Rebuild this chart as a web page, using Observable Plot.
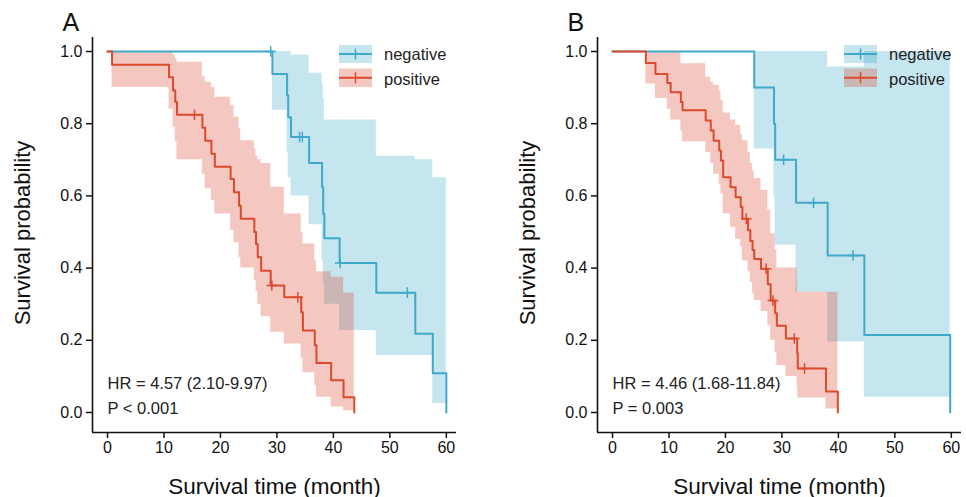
<!DOCTYPE html>
<html><head><meta charset="utf-8">
<script src="https://cdn.jsdelivr.net/npm/d3@7"></script>
<script src="https://cdn.jsdelivr.net/npm/@observablehq/plot@0.6"></script>
<style>
body{margin:0;background:#fff}
#wrap{display:flex;width:966px;height:497px}
#wrap svg .tick line, #wrap svg [aria-label$="tick"] path{stroke-width:1.5}
</style>
</head><body><div id="wrap"></div>
<script>
// ---------- shared ----------
const xTicks = [0, 10, 20, 30, 40, 50, 60];
const yTicks = [0, 0.2, 0.4, 0.6, 0.8, 1.0];
const groups = ["negative", "positive"];
const xLabel = "Survival time (month)";
const yLabel = "Survival probability";

// ---------- Panel A ----------
const aNegTime  = [0, 29.2, 31.8, 32.0, 32.5, 35.7, 38.0, 38.2, 38.4, 41.1, 47.6, 54.5, 57.6, 60];
const aNegSurv  = [1, .938, .878, .818, .763, .691, .624, .55, .483, .414, .332, .218, .109, 0];
const aNegUpper = [1, 1, 1, 1, .99, .94, .91, .87, .81, .81, .71, .70, .65, 0];
const aNegLower = [1, .837, .72, .65, .60, .52, .42, .36, .30, .227, .158, .158, .025, 0];
const aNegCensor = [28.9, 34.0, 34.5, 41.2, 53.1];

const aPosTime  = [0, 0.8, 10.9, 11.6, 12.0, 12.3, 16.8, 17.3, 18.4, 19.0, 21.8, 22.4, 23.3, 23.6, 26.0, 26.3, 26.6, 27.2, 28.9, 31.3, 34.3, 34.6, 36.7, 37.0, 39.6, 41.8, 43.7];
const aPosSurv  = [1, .963, .929, .892, .86, .825, .789, .753, .717, .681, .647, .61, .573, .537, .5, .467, .43, .393, .352, .319, .278, .227, .186, .137, .089, .042, 0];
const aPosUpper = [1, 1, 1, .99, .98, .97, .93, .915, .9, .873, .85, .818, .786, .753, .73, .71, .70, .69, .624, .55, .50, .467, .42, .39, .375, .33, 0];
const aPosLower = [1, .90, .84, .79, .75, .70, .66, .62, .587, .55, .504, .47, .43, .40, .366, .335, .30, .265, .222, .19, .15, .11, .075, .042, .015, .005, 0];
const aPosCensor = [15.4, 29.1, 33.7];
const aStats = ["HR = 4.57 (2.10-9.97)", "P < 0.001"];

// ---------- Panel B ----------
const bNegTime  = [0, 25.1, 28.6, 28.8, 32.5, 38.1, 44.6, 59.8];
const bNegSurv  = [1, .9, .8, .7, .581, .435, .215, 0];
const bNegUpper = [1, 1, 1, 1, 1, .957, 1, 0];
const bNegLower = [1, .73, .60, .463, .333, .195, .042, 0];
const bNegCensor = [30.3, 35.6, 42.6];

const bPosTime  = [0, 5.9, 7.6, 9.7, 10.3, 12.1, 12.4, 16.5, 17.4, 17.9, 18.9, 19.2, 19.6, 20.9, 21.8, 22.7, 23.0, 24.0, 24.4, 24.8, 25.1, 26.3, 27.5, 28.0, 28.8, 29.1, 30.7, 32.7, 32.8, 37.8, 39.9];
const bPosSurv  = [1, .968, .938, .913, .887, .86, .837, .809, .781, .753, .726, .698, .652, .624, .596, .569, .537, .505, .475, .45, .425, .398, .355, .31, .275, .24, .205, .164, .122, .058, 0];
const bPosUpper = [1, 1, 1, 1, 1, .966, .966, .929, .915, .906, .89, .864, .83, .81, .795, .77, .753, .72, .69, .67, .648, .615, .56, .495, .45, .40, .40, .36, .333, .333, 0];
const bPosLower = [1, .91, .87, .84, .81, .78, .75, .72, .69, .66, .63, .606, .55, .513, .48, .458, .42, .39, .36, .33, .31, .28, .24, .20, .165, .13, .10, .07, .04, .01, 0];
const bPosCensor = [23.7, 27.2, 28.4, 32.2, 34.0];
const bStats = ["HR = 4.46 (1.68-11.84)", "P = 0.003"];

// ---------- helpers ----------
const blue = "#3FA9C9", red = "#DC4A2D";
const FONT = "'Liberation Sans', Arial, Helvetica, sans-serif";
const xDomain = [-2.66, 61.8];
const yDomain = [-0.0554, 1.0388];

function rows(time, surv, lower, upper) {
  return time.map((t, i) => ({t, s: surv[i], lo: lower[i], hi: upper[i]}));
}
function survAt(time, surv, t) {
  let s = surv[0];
  for (let i = 0; i < time.length; i++) if (time[i] <= t) s = surv[i];
  return s;
}
function censRows(cens, time, surv) {
  return cens.map(t => ({t, s: survAt(time, surv, t)}));
}

function panel(o) {
  const neg = rows(o.negTime, o.negSurv, o.negLower, o.negUpper);
  const pos = rows(o.posTime, o.posSurv, o.posLower, o.posUpper);
  const negC = censRows(o.negCensor, o.negTime, o.negSurv);
  const posC = censRows(o.posCensor, o.posTime, o.posSurv);
  const W = 483, H = 497, mT = 37, mB = 65;
  const svg = Plot.plot({
    width: W, height: H,
    marginLeft: o.marginLeft, marginRight: o.marginRight, marginTop: mT, marginBottom: mB,
    style: {fontFamily: FONT, fontSize: "16px", color: "#111", background: "white", overflow: "visible"},
    x: {domain: xDomain, ticks: xTicks, tickFormat: d => String(d), tickSize: 6, tickPadding: 3, label: null},
    y: {domain: yDomain, ticks: yTicks, tickFormat: d => d.toFixed(1), tickSize: 6, tickPadding: 4, label: null},
    marks: [
      Plot.areaY(neg, {x: "t", y1: "lo", y2: "hi", curve: "step-after", fill: blue, fillOpacity: 0.3}),
      Plot.areaY(pos, {x: "t", y1: "lo", y2: "hi", curve: "step-after", fill: red, fillOpacity: 0.3}),
      Plot.line(neg, {x: "t", y: "s", curve: "step-after", stroke: blue, strokeWidth: 2}),
      Plot.dot(negC, {x: "t", y: "s", symbol: "plus", r: 3.5, stroke: blue, strokeWidth: 1.5}),
      Plot.line(pos, {x: "t", y: "s", curve: "step-after", stroke: red, strokeWidth: 2}),
      Plot.dot(posC, {x: "t", y: "s", symbol: "plus", r: 3.5, stroke: red, strokeWidth: 1.5}),
      Plot.ruleX([xDomain[0]], {stroke: "#111", strokeWidth: 1.6}),
      Plot.ruleY([yDomain[0]], {stroke: "#111", strokeWidth: 1.6}),
      Plot.text([o.stats[0]], {frameAnchor: "bottom-left", dx: 15, dy: -44, lineAnchor: "bottom", textAnchor: "start", text: d => d, fontSize: 16.5, fill: "#222"}),
      Plot.text([o.stats[1]], {frameAnchor: "bottom-left", dx: 15, dy: -19, lineAnchor: "bottom", textAnchor: "start", text: d => d, fontSize: 16.5, fill: "#222"}),
      Plot.text([xLabel], {frameAnchor: "bottom", dy: 61, lineAnchor: "bottom", textAnchor: "middle", text: d => d, fontSize: 22.5, fill: "#111"}),
      Plot.text([yLabel], {frameAnchor: "left", dx: -70, dy: -2, rotate: -90, lineAnchor: "middle", textAnchor: "middle", text: d => d, fontSize: 22, fill: "#111"}),
      Plot.text([o.letter], {frameAnchor: "top-left", dx: -30, dy: -7, lineAnchor: "bottom", textAnchor: "start", text: d => d, fontSize: 25, fill: "#111"})
    ]
  });
  // legend (keys drawn over the plot, semi-transparent like the bands)
  const right = W - o.marginRight;
  const g = d3.select(svg).append("g").attr("aria-label", "legend");
  const keyRows = [{name: groups[0], color: blue, top: 45, h: 18, base: 60},
                   {name: groups[1], color: red, top: 68.5, h: 18.5, base: 85}];
  keyRows.forEach(k => {
    const x0 = right - 117, w = 33, cy = k.top + k.h / 2;
    g.append("rect").attr("x", x0).attr("y", k.top).attr("width", w).attr("height", k.h)
      .attr("fill", k.color).attr("fill-opacity", 0.3);
    g.append("line").attr("x1", x0).attr("x2", x0 + w).attr("y1", cy).attr("y2", cy)
      .attr("stroke", k.color).attr("stroke-width", 2);
    g.append("line").attr("x1", x0 + w / 2).attr("x2", x0 + w / 2).attr("y1", cy - 5.5).attr("y2", cy + 5.5)
      .attr("stroke", k.color).attr("stroke-width", 1.5);
    g.append("text").attr("x", right - 72).attr("y", k.base).text(k.name)
      .attr("text-anchor", "start")
      .attr("font-size", 16.5).attr("font-family", FONT).attr("fill", "#222");
  });
  return svg;
}

const wrap = document.getElementById("wrap");
wrap.appendChild(panel({
  letter: "A", marginLeft: 92, marginRight: 27,
  negTime: aNegTime, negSurv: aNegSurv, negLower: aNegLower, negUpper: aNegUpper, negCensor: aNegCensor,
  posTime: aPosTime, posSurv: aPosSurv, posLower: aPosLower, posUpper: aPosUpper, posCensor: aPosCensor,
  stats: aStats
}));
wrap.appendChild(panel({
  letter: "B", marginLeft: 114, marginRight: 5,
  negTime: bNegTime, negSurv: bNegSurv, negLower: bNegLower, negUpper: bNegUpper, negCensor: bNegCensor,
  posTime: bPosTime, posSurv: bPosSurv, posLower: bPosLower, posUpper: bPosUpper, posCensor: bPosCensor,
  stats: bStats
}));
</script>
</body></html>
